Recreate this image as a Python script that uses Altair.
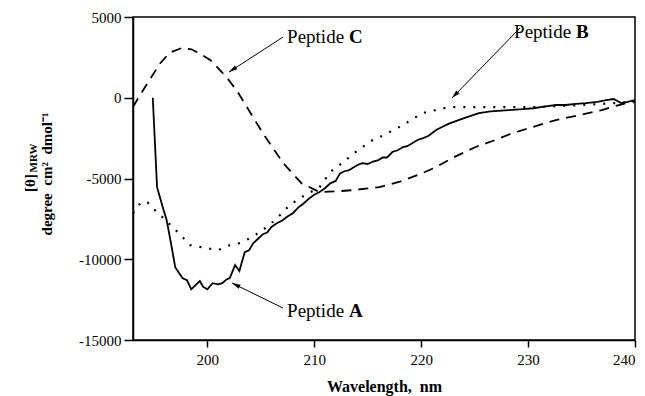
import math
import altair as alt
import pandas as pd

# ---------------- data ----------------
wl_a = [194.9, 195.3, 195.8, 196.2, 196.6, 197.0, 197.4, 197.7, 198.1, 198.5, 198.9, 199.3,
        199.6, 200.0, 200.5, 201.0, 201.4, 201.8, 202.1, 202.6, 203.0, 203.5, 203.9, 204.3,
        204.8, 205.2, 205.6, 206.0, 206.5, 207.0, 207.5, 208.0, 208.5, 209.0, 209.5, 210.0,
        210.5, 211.0, 211.5, 212.0, 212.4, 212.8, 213.2, 213.7, 214.1, 214.5, 215.0, 215.5,
        216.0, 216.4, 216.8, 217.3, 217.8, 218.3, 218.7, 219.2, 219.7, 220.2, 220.7, 221.4,
        222.0, 222.6, 223.5, 224.5, 225.4, 226.5, 227.5, 228.2, 229.5, 230.5, 231.5, 232.6,
        233.5, 234.5, 235.4, 236.5, 237.3, 238.0, 238.7, 239.3, 240.0]
cd_a = [0, -5540, -6700, -7580, -9000, -10490, -10900, -11180, -11300, -11860, -11600, -11350,
        -11700, -11860, -11480, -11550, -11480, -11250, -11170, -10360, -10730, -9560, -9450, -9000,
        -8700, -8450, -8350, -8000, -7770, -7600, -7350, -7150, -6800, -6550, -6250, -6000,
        -5840, -5600, -5300, -5150, -4700, -4550, -4500, -4300, -4150, -4050, -4100, -3950,
        -3860, -3700, -3700, -3360, -3250, -3050, -3000, -2800, -2600, -2500, -2350, -2000,
        -1800, -1600, -1380, -1150, -950, -850, -800, -760, -700, -650, -550, -450,
        -450, -380, -330, -250, -150, -80, -330, -250, -140]

wl_b = [193.05, 193.8, 194.4, 195.1, 196.1, 197.5, 198.4, 200.0, 201.0, 202.1, 203.0, 204.0,
        204.9, 205.8, 206.8, 207.7, 208.8, 210.5, 211.5, 212.6, 213.6, 214.5, 215.5, 216.4,
        218.3, 220.1, 222.6, 226.1, 230.7, 235.0, 238.2, 240.0]
cd_b = [-7150, -6470, -6470, -6960, -7580, -8500, -9130, -9320, -9440, -9130, -9000, -8700,
        -8320, -7890, -7270, -6650, -6160, -5540, -4600, -4050, -3490, -3060, -2600, -2350,
        -1690, -950, -580, -580, -580, -450, -330, -270]

wl_c = [193.05, 193.7, 194.4, 195.6, 196.5, 197.6, 198.5, 199.4, 200.3, 201.8, 202.8, 203.7,
        205.2, 207.1, 208.8, 210.5, 212.0, 213.6, 216.1, 218.0, 220.0, 221.4, 223.0, 225.1,
        227.0, 228.5, 230.5, 232.6, 235.0, 236.9, 238.5, 240.0]
cd_c = [-576, 160, 900, 2140, 2800, 3080, 3000, 2700, 2330, 1280, 400, -576,
        -2200, -4050, -5290, -5840, -5800, -5720, -5530, -5200, -4700, -4290, -3700, -3050,
        -2600, -2200, -1800, -1380, -1050, -760, -450, -200]

# annotation labels: "Peptide" + bold letter
ann_letter = ["A", "B", "C"]
ann_x = [207.46, 228.69, 207.46]
ann_y = [-13579, 3697, 3387]
# arrows (tail -> head)
arr_x1 = [207.08, 229.24, 207.08]
arr_y1 = [-13022, 4316, 3758]
arr_x2 = [202.31, 222.88, 202.03]
arr_y2 = [-11474, -19, 1591]

x_ticks = [200, 210, 220, 230, 240]
y_ticks = [-15000, -10000, -5000, 0, 5000]

X_DOMAIN = [193.05, 240]
Y_DOMAIN = [-15000, 5000]
W, H = 502, 323
FONT = "Liberation Serif"

# ---------------- build tables ----------------
df_a = pd.DataFrame({"wl": wl_a, "cd": cd_a})
df_b = pd.DataFrame({"wl": wl_b, "cd": cd_b})
df_c = pd.DataFrame({"wl": wl_c, "cd": cd_c})
df_ann = pd.DataFrame({"x": ann_x, "y": ann_y, "word": ["Peptide"] * 3, "letter": ann_letter})

pxx = W / (X_DOMAIN[1] - X_DOMAIN[0])
pxy = H / (Y_DOMAIN[1] - Y_DOMAIN[0])
angles = []
for x1, y1, x2, y2 in zip(arr_x1, arr_y1, arr_x2, arr_y2):
    dx = (x2 - x1) * pxx
    dy = -(y2 - y1) * pxy
    angles.append(math.degrees(math.atan2(dx, -dy)) % 360)
df_arr = pd.DataFrame({"x1": arr_x1, "y1": arr_y1, "x2": arr_x2, "y2": arr_y2, "ang": angles})

xscale = alt.Scale(domain=X_DOMAIN, nice=False, zero=False)
yscale = alt.Scale(domain=Y_DOMAIN, nice=False, zero=False)
xaxis = alt.Axis(values=x_ticks, title="Wavelength,\u00a0 nm", grid=False, tickSize=7,
                 labelPadding=5, titlePadding=11, format="d",
                 labelFont=FONT, labelFontSize=15, labelColor="black",
                 titleFont=FONT, titleFontSize=16, titleFontWeight="bold", titleColor="black")
yaxis = alt.Axis(values=y_ticks, title=None, grid=False, tickSize=9, labelPadding=3,
                 labelFont=FONT, labelFontSize=15, labelColor="black",
                 labelExpr="datum.value < 0 ? '-' + abs(datum.value) : '' + datum.value")


def enc_x(field):
    return alt.X(field, type="quantitative", scale=xscale, axis=xaxis)


def enc_y(field):
    return alt.Y(field, type="quantitative", scale=yscale, axis=yaxis)


line_a = alt.Chart(df_a).mark_line(color="black", strokeWidth=1.8, clip=True).encode(
    x=enc_x("wl"), y=enc_y("cd"))
line_b = alt.Chart(df_b).mark_line(color="black", strokeWidth=2.2, strokeDash=[2, 8], clip=True).encode(
    x=enc_x("wl"), y=enc_y("cd"))
line_c = alt.Chart(df_c).mark_line(color="black", strokeWidth=1.8, strokeDash=[10, 7], clip=True).encode(
    x=enc_x("wl"), y=enc_y("cd"))

arrows = alt.Chart(df_arr).mark_rule(color="black", strokeWidth=1).encode(
    x=enc_x("x1"), y=enc_y("y1"), x2="x2", y2="y2")
heads = alt.Chart(df_arr).mark_point(
    shape="M0,0L-0.45,1.7L0.45,1.7Z", filled=True, color="black", opacity=1, size=100, strokeWidth=0
).encode(x=enc_x("x2"), y=enc_y("y2"), angle=alt.Angle("ang:Q", scale=None))

words = alt.Chart(df_ann).mark_text(align="left", baseline="alphabetic", font=FONT, fontSize=19,
                                     color="black").encode(x=enc_x("x"), y=enc_y("y"), text="word")
letters = alt.Chart(df_ann).mark_text(align="left", baseline="alphabetic", font=FONT, fontSize=19,
                                       fontWeight="bold", color="black", dx=62).encode(
    x=enc_x("x"), y=enc_y("y"), text="letter")

# y-axis title (two lines, with subscript)
yt1 = alt.Chart(pd.DataFrame({"t": ["[\u03b8]"]})).mark_text(
    angle=270, font=FONT, fontSize=15, fontWeight="bold", color="black",
    baseline="middle", align="center").encode(x=alt.value(-103), y=alt.value(166), text="t")
yt_sub = alt.Chart(pd.DataFrame({"t": ["MRW"]})).mark_text(
    angle=270, font=FONT, fontSize=11, fontWeight="bold", color="black",
    baseline="middle", align="center").encode(x=alt.value(-99), y=alt.value(141), text="t")
yt2 = alt.Chart(pd.DataFrame({"t": ["degree\u00a0 cm\u00b2\u00a0 dmol\u207b\u00b9"]})).mark_text(
    angle=270, font=FONT, fontSize=15, fontWeight="bold", color="black",
    baseline="middle", align="center").encode(x=alt.value(-86), y=alt.value(157), text="t")

chart = alt.layer(line_a, line_b, line_c, arrows, heads, words, letters, yt1, yt_sub, yt2).properties(
    width=W, height=H,
    autosize=alt.AutoSizeParams(type="none"),
    padding={"left": 133, "top": 17, "right": 10, "bottom": 56},
    background="white",
).configure_view(stroke="black", strokeWidth=1.5).configure_axis(
    domainColor="black", domainWidth=1.5, tickColor="black", tickWidth=1.5,
    labelFont=FONT, labelFontSize=15, labelColor="black",
    titleFont=FONT, titleFontSize=16, titleFontWeight="bold", titleColor="black",
)

chart.save("out.html", embed_options={"renderer": "svg", "actions": False})
